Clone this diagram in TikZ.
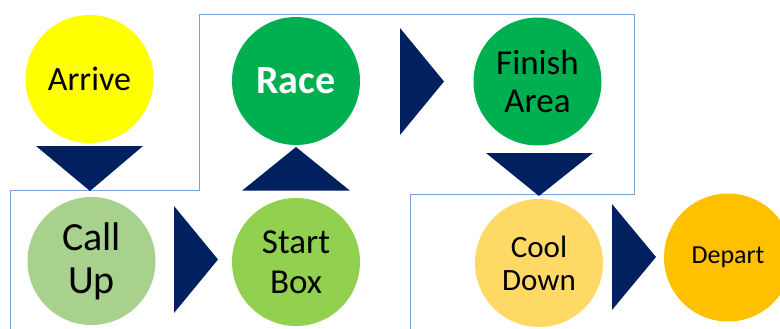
\documentclass[tikz,border=0pt]{standalone}
\usepackage{fontspec}
\setmainfont{Carlito}
\usepackage{tikz}
\definecolor{navy}{HTML}{002060}
\definecolor{edgeblue}{HTML}{7F9FDB}
\definecolor{sunyellow}{HTML}{FFFF00}
\definecolor{racegreen}{HTML}{00B050}
\definecolor{palegreen}{HTML}{A9D18E}
\definecolor{limegreen}{HTML}{92D050}
\definecolor{paleorange}{HTML}{FFD966}
\definecolor{gold}{HTML}{FFC000}

\begin{document}
\begin{tikzpicture}[x=1pt, y=-1pt]
    \tikzstyle{stage} = [circle, minimum size=128pt, inner sep=0pt, align=center, text=black]
    \tikzstyle{pointer} = [fill=navy]
    \tikzstyle{frame} = [draw=edgeblue, line width=0.9pt]

    \useasboundingbox (0,0) rectangle (780,329);

    \draw[frame] (10,335) -- (10,190.7) -- (199.3,190.7) -- (199.3,14) -- (634.3,14)
        -- (634.3,194.3) -- (410.7,194.3) -- (410.7,335);

    \node[stage, fill=sunyellow, font=\fontsize{34}{40}\selectfont] (arrive) at (89.5,79) {Arrive};
    \node[stage, fill=palegreen, font=\fontsize{40}{43}\selectfont] (callup) at (91.5,261) {Call\\Up};
    \node[stage, fill=limegreen, font=\fontsize{35}{40}\selectfont] (startbox) at (296,262) {Start\\Box};
    \node[stage, fill=racegreen, text=white, font=\fontsize{40}{44}\selectfont\bfseries] (race) at (296,81) {Race};
    \node[stage, fill=racegreen, font=\fontsize{35}{38}\selectfont] (finish) at (537.5,81.5) {Finish\\Area};
    \node[stage, fill=paleorange, font=\fontsize{31}{33}\selectfont] (cooldown) at (539,263) {Cool\\Down};
    \node[stage, fill=gold, font=\fontsize{26}{30}\selectfont] (depart) at (728,257.5) {Depart};

    % arrows between the stages
    \fill[pointer] (36,146) -- (143,146) -- (90,191) -- cycle;
    \fill[pointer] (174,206) -- (218,259.5) -- (174,313) -- cycle;
    \fill[pointer] (242,190.7) -- (296,147) -- (350,190.7) -- cycle;
    \fill[pointer] (400,28) -- (444,81.5) -- (400,135) -- cycle;
    \fill[pointer] (486,153) -- (593,153) -- (539,196) -- cycle;
    \fill[pointer] (612,204) -- (656,257) -- (612,310) -- cycle;
\end{tikzpicture}
\end{document}
